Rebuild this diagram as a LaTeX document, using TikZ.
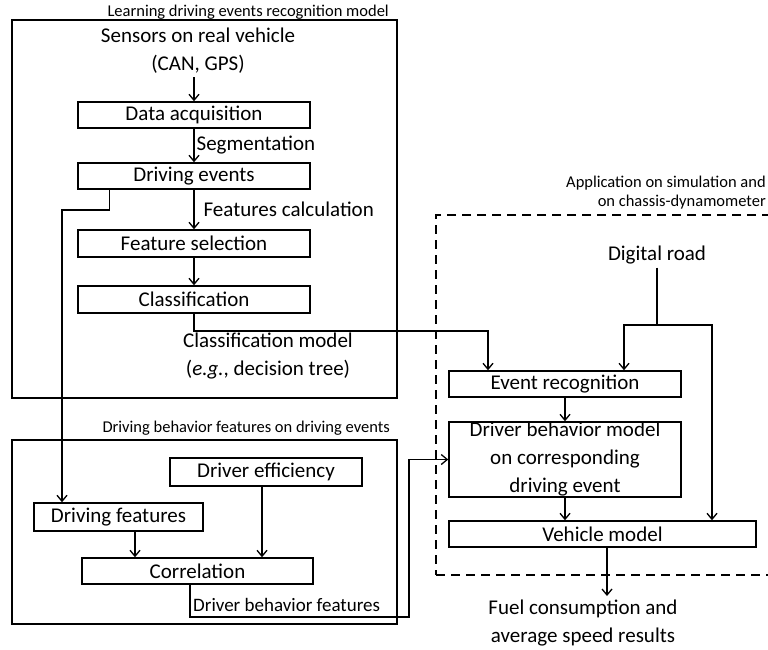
\documentclass[tikz,border=0pt]{standalone}
\usepackage{fontspec}
\setmainfont{Carlito}
\usetikzlibrary{arrows.meta}
\begin{document}
\begin{tikzpicture}[x=1pt,y=-1pt,
  big/.style={font=\fontsize{21}{28}\selectfont},
  small/.style={font=\fontsize{16.5}{19}\selectfont},
  stepbox/.style={draw,line width=1.5pt,inner sep=0pt,big,minimum height=26pt},
  frame/.style={draw,line width=2pt,inner sep=0pt},
  dframe/.style={draw,line width=2.6pt,dash pattern=on 9pt off 6pt,inner sep=0pt},
  arr/.style={line width=1.3pt,-{Straight Barb[length=6pt,width=10pt,line width=1.3pt]}},
  wire/.style={line width=1.3pt}]
\useasboundingbox (0,0) rectangle (768,649);
\clip (0,0) rectangle (768,649);

% group frames
\node[frame,minimum width=385pt,minimum height=378pt] (learn) at (204.5,209) {};
\node[frame,minimum width=385pt,minimum height=184pt] (behav) at (204.5,532) {};
\node[dframe,minimum width=370pt,minimum height=360pt] (appl) at (621,395) {};

% group titles
\node[small,anchor=east,inner sep=1pt] (tlearn) at (390,12) {Learning driving events recognition model};
\node[small,anchor=east,inner sep=1pt] (tbehav) at (391,428) {Driving behavior features on driving events};
\node[small,anchor=east,inner sep=1pt] (tappl1) at (767,183) {Application on simulation and};
\node[small,anchor=east,inner sep=1pt] (tappl2) at (767,202) {on chassis-dynamometer};

% learning chain
\node[big,align=center] (sens) at (198,51) {Sensors on real vehicle\\(CAN, GPS)};
\node[stepbox,minimum width=232pt] (da) at (194,115) {Data acquisition};
\node[stepbox,minimum width=232pt] (de) at (194,176) {Driving events};
\node[stepbox,minimum width=232pt,minimum height=27pt] (fs) at (194,243.5) {Feature selection};
\node[stepbox,minimum width=232pt,minimum height=27pt] (cl) at (194,299.5) {Classification};

\draw[arr] (da.north |- sens.south) -- (da.north);
\draw[arr] (da.south) -- node[big,anchor=west,inner sep=2pt] (lseg) {Segmentation} (de.north);
\draw[arr] (de.south) -- node[big,anchor=west,inner sep=0pt,xshift=9pt] (lfeat) {Features calculation} (fs.north);
\draw[arr] (fs.south) -- (cl.north);
\node[big,align=center] (lclass) at (268,356) {Classification model\\(\textit{e.g.}, decision tree)};

% behaviour features
\node[stepbox,minimum width=192pt,minimum height=28pt] (eff) at (266,472) {Driver efficiency};
\node[stepbox,minimum width=169pt,minimum height=28pt] (dfe) at (118.5,517) {Driving features};
\node[stepbox,minimum width=231pt] (cor) at (197.5,571) {Correlation};

\draw[arr] ([xshift=16.5pt]dfe.south) -- ([xshift=16.5pt]dfe.south |- cor.north);
\draw[arr] ([xshift=-4pt]eff.south) -- ([xshift=-4pt]eff.south |- cor.north);

% application
\node[big] (road) at (657,255) {Digital road};
\node[stepbox,minimum width=232pt] (er) at (565,384) {Event recognition};
\node[stepbox,minimum width=232pt,minimum height=75pt,align=center] (dbm) at (565,459.5)
  {Driver behavior model\\on corresponding\\driving event};
\node[stepbox,minimum width=307pt] (vm) at (602.5,534) {Vehicle model};
\node[big,align=center,anchor=north] (fuel) at (583,596) {Fuel consumption and\\average speed results};

\draw[arr] (er.south) -- (dbm.north);
\draw[arr] (dbm.south) -- (dbm.south |- vm.north);
\draw[arr] ([xshift=4.5pt]vm.south) -- ([xshift=4.5pt]vm.south |- fuel.north);

% cross connections
\coordinate (j1) at (62,210);
\coordinate (j2) at (488,331);
\coordinate (j3) at (657,325);
\coordinate (j4) at (409,617);
\draw[arr] ([xshift=32pt]de.south west) |- (j1) -- (j1 |- dfe.north);
\draw[arr] (cl.south) |- (j2) -- (j2 |- er.north);
\draw[wire] (road.south) -- (j3);
\draw[arr] (j3) -| ([xshift=59pt]er.north);
\draw[arr] (j3) -| ([xshift=109.5pt]vm.north);
\draw[arr] ([xshift=-7.5pt]cor.south) |- (j4) |- (dbm.west);
\node[font=\fontsize{19}{22}\selectfont,anchor=west,inner sep=0pt] (lbeh) at (193,605) {Driver behavior features};
\end{tikzpicture}
\end{document}
